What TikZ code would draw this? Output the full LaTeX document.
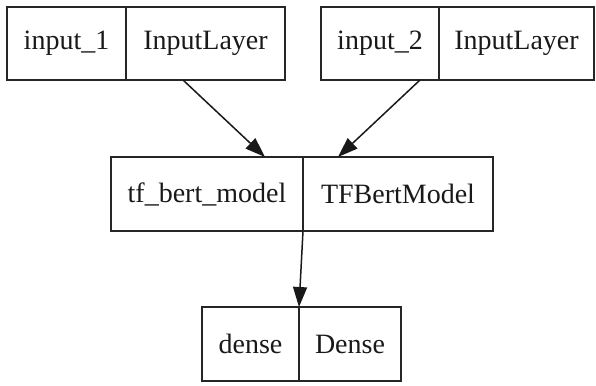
\documentclass[tikz,border=0pt]{standalone}
\usepackage{fontspec}
\setmainfont{Liberation Serif}
\usetikzlibrary{arrows.meta}
\begin{document}
\begin{tikzpicture}[x=1pt,y=-1pt,
  cell/.style={draw=black!85, line width=1.6pt, rectangle, inner sep=0pt, outer sep=0pt,
    font=\fontsize{28}{34}\selectfont, text=black!90, anchor=center},
  link/.style={draw=black!90, line width=1.5pt, -{Triangle[length=20pt,width=14pt]}}]
  \useasboundingbox (0,0) rectangle (596,385);
  % row 1: the two input layers
  \node[cell, minimum width=119pt, minimum height=73pt] (in1name) at (66.5,43.5) {input\_1};
  \node[cell, minimum width=159pt, minimum height=73pt] (in1type) at (205.5,43.5) {InputLayer};
  \node[cell, minimum width=118pt, minimum height=73pt] (in2name) at (380,43.5) {input\_2};
  \node[cell, minimum width=155pt, minimum height=73pt] (in2type) at (516.5,43.5) {InputLayer};
  % row 2: the BERT model
  \node[cell, minimum width=192pt, minimum height=74pt] (bertname) at (207,194) {tf\_bert\_model};
  \node[cell, minimum width=190pt, minimum height=74pt] (berttype) at (398,194) {TFBertModel};
  % row 3: the dense output layer
  \node[cell, minimum width=97pt, minimum height=74pt] (densename) at (250.5,344) {dense};
  \node[cell, minimum width=102pt, minimum height=74pt] (densetype) at (350,344) {Dense};
  % connectors
  \draw[link] ([xshift=-22.5pt]in1type.south) -- ([xshift=58pt]bertname.north);
  \draw[link] ([xshift=40pt]in2name.south) -- ([xshift=-60pt]berttype.north);
  \draw[link] (bertname.south east) -- (densename.north east);
\end{tikzpicture}
\end{document}
